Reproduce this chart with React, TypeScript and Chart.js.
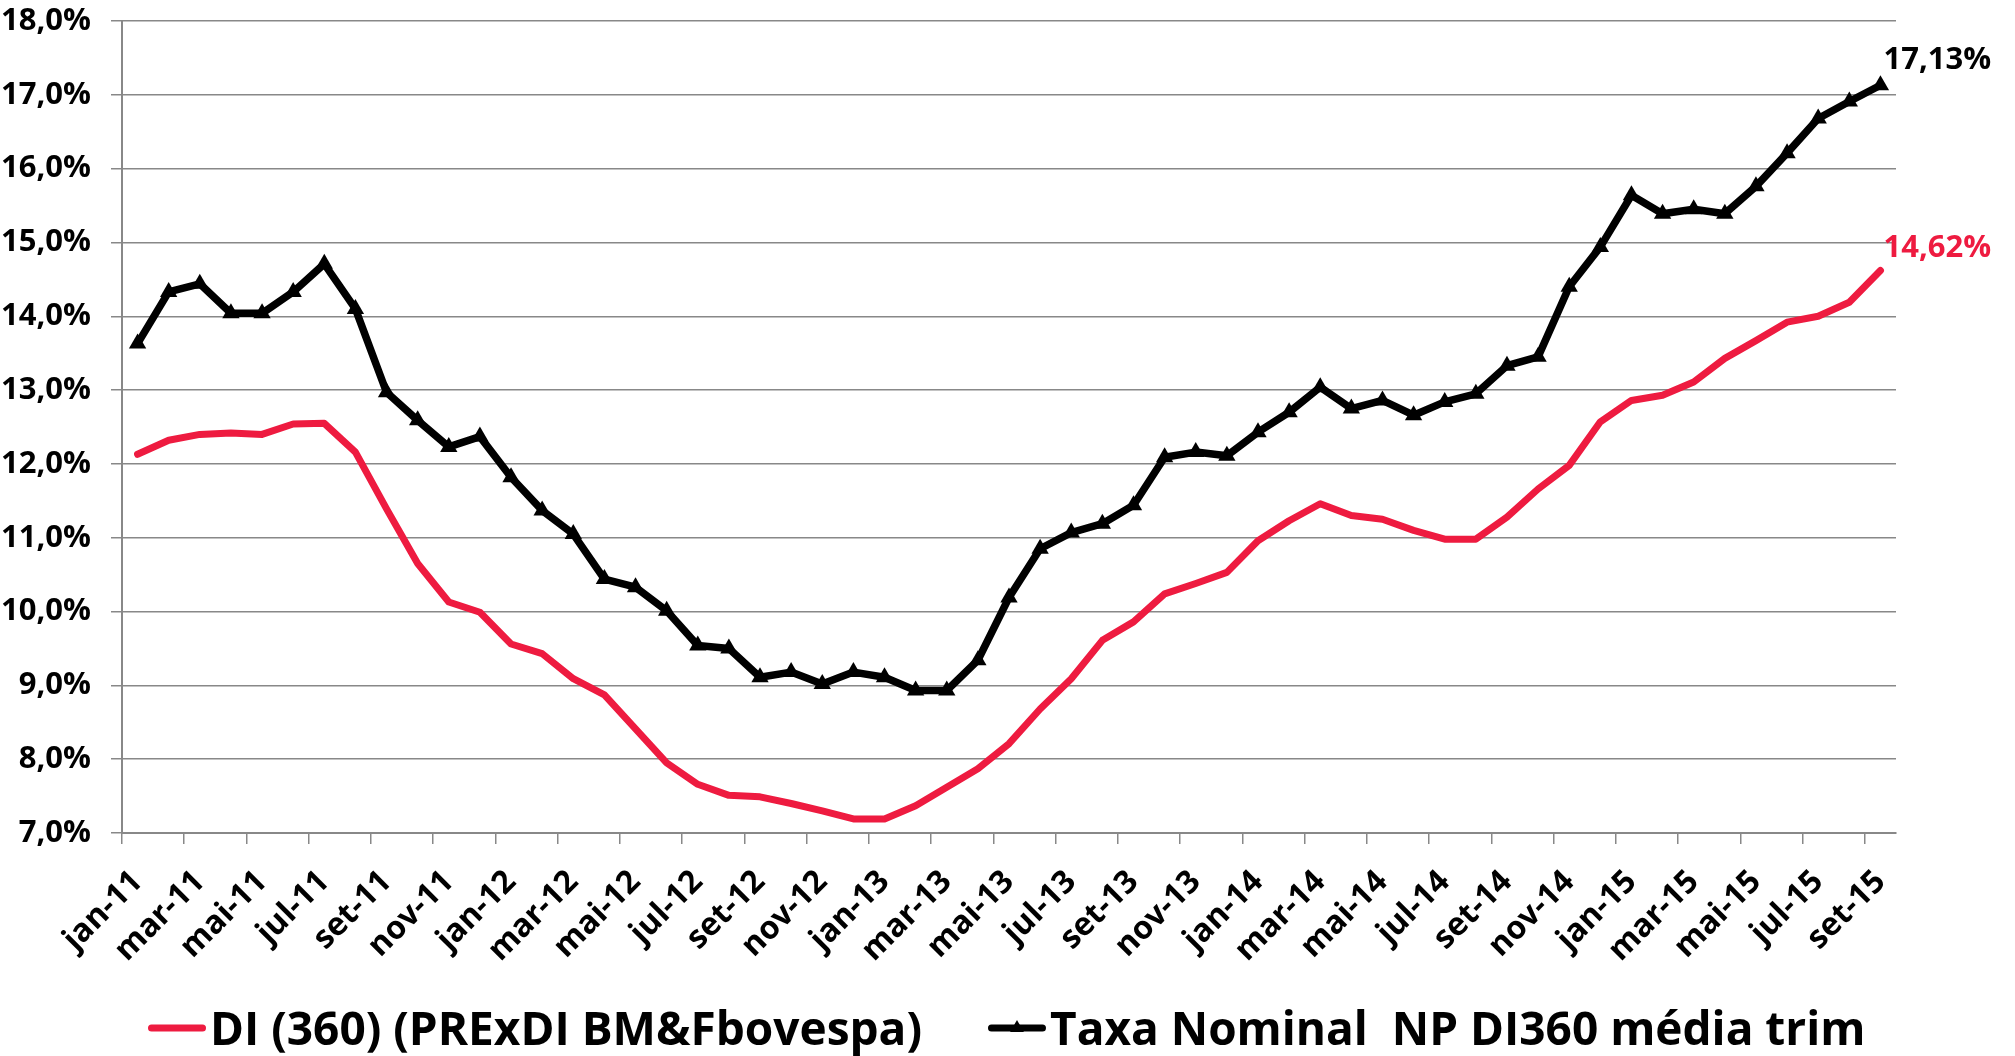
import React, { useEffect, useRef } from 'react';
import { Chart, registerables } from 'chart.js';

Chart.register(...registerables);

const FONT = "'Open Sans', 'Liberation Sans', sans-serif";
const RED = '#EE1B40';
const BLACK = '#000000';
const GRID = '#888888';

const categories = [
  'jan-11', 'fev-11', 'mar-11', 'abr-11', 'mai-11', 'jun-11', 'jul-11', 'ago-11', 'set-11', 'out-11', 'nov-11', 'dez-11',
  'jan-12', 'fev-12', 'mar-12', 'abr-12', 'mai-12', 'jun-12', 'jul-12', 'ago-12', 'set-12', 'out-12', 'nov-12', 'dez-12',
  'jan-13', 'fev-13', 'mar-13', 'abr-13', 'mai-13', 'jun-13', 'jul-13', 'ago-13', 'set-13', 'out-13', 'nov-13', 'dez-13',
  'jan-14', 'fev-14', 'mar-14', 'abr-14', 'mai-14', 'jun-14', 'jul-14', 'ago-14', 'set-14', 'out-14', 'nov-14', 'dez-14',
  'jan-15', 'fev-15', 'mar-15', 'abr-15', 'mai-15', 'jun-15', 'jul-15', 'ago-15', 'set-15',
];

const diValues = [
  12.13, 12.32, 12.40, 12.42, 12.40, 12.54, 12.55, 12.16, 11.39, 10.65,
  10.13, 9.99, 9.56, 9.43, 9.09, 8.87, 8.41, 7.95, 7.66, 7.51,
  7.49, 7.40, 7.30, 7.19, 7.19, 7.37, 7.62, 7.87, 8.21, 8.68,
  9.09, 9.61, 9.86, 10.24, 10.38, 10.53, 10.96, 11.23, 11.46, 11.30,
  11.25, 11.10, 10.98, 10.98, 11.28, 11.66, 11.98, 12.57, 12.86, 12.93,
  13.11, 13.43, 13.67, 13.92, 14.00, 14.19, 14.62,
];

const taxaValues = [
  13.63, 14.33, 14.44, 14.04, 14.04, 14.33, 14.71, 14.10, 12.97, 12.59,
  12.23, 12.37, 11.82, 11.37, 11.05, 10.44, 10.33, 10.01, 9.54, 9.50,
  9.11, 9.18, 9.02, 9.18, 9.11, 8.93, 8.93, 9.34, 10.19, 10.85,
  11.07, 11.19, 11.44, 12.09, 12.16, 12.11, 12.43, 12.70, 13.04, 12.75,
  12.86, 12.66, 12.84, 12.95, 13.33, 13.45, 14.40, 14.94, 15.64, 15.39,
  15.45, 15.39, 15.76, 16.21, 16.68, 16.91, 17.13,
];

const seriesNames = ['DI (360) (PRExDI BM&Fbovespa)', 'Taxa Nominal  NP DI360 média trim'];

const Y_MIN = 7;
const Y_MAX = 18;
const Y_STEP = 1;

function fmtPct(v: number, digits: number): string {
  return v.toFixed(digits).replace('.', ',') + '%';
}

function drawTriangle(ctx: CanvasRenderingContext2D, x: number, y: number, r: number) {
  ctx.beginPath();
  let rad = 0;
  ctx.moveTo(x + Math.sin(rad) * r, y - Math.cos(rad) * r);
  rad += (2 * Math.PI) / 3;
  ctx.lineTo(x + Math.sin(rad) * r, y - Math.cos(rad) * r);
  rad += (2 * Math.PI) / 3;
  ctx.lineTo(x + Math.sin(rad) * r, y - Math.cos(rad) * r);
  ctx.closePath();
  ctx.fill();
}

const endLabelPlugin = {
  id: 'endLabels',
  afterDatasetsDraw(chart: any) {
    const ctx: CanvasRenderingContext2D = chart.ctx;
    const rises = [13.5, 16.5];
    chart.data.datasets.forEach((ds: any, di: number) => {
      const meta = chart.getDatasetMeta(di);
      const pt = meta.data[meta.data.length - 1];
      const val = ds.data[ds.data.length - 1];
      ctx.save();
      ctx.font = `bold 31px ${FONT}`;
      ctx.fillStyle = ds.borderColor;
      ctx.textAlign = 'left';
      ctx.textBaseline = 'alphabetic';
      ctx.fillText(fmtPct(val, 2), pt.x + 3, pt.y - rises[di]);
      ctx.restore();
    });
  },
};

const legendPlugin = {
  id: 'bottomLegend',
  afterDraw(chart: any) {
    const ctx: CanvasRenderingContext2D = chart.ctx;
    const lineY = 1028;
    const baseY = 1045;
    let x = 148;
    ctx.save();
    ctx.font = `bold 46px ${FONT}`;
    chart.data.datasets.forEach((ds: any) => {
      ctx.strokeStyle = ds.borderColor;
      ctx.lineWidth = 7;
      ctx.lineCap = 'round';
      ctx.beginPath();
      ctx.moveTo(x + 3.5, lineY);
      ctx.lineTo(x + 54.5, lineY);
      ctx.stroke();
      if (ds.pointRadius > 0) {
        ctx.fillStyle = ds.pointBackgroundColor;
        drawTriangle(ctx, x + 29, lineY, 8);
      }
      ctx.fillStyle = '#000';
      ctx.textAlign = 'left';
      ctx.textBaseline = 'alphabetic';
      ctx.fillText(ds.label, x + 62, baseY);
      x += 62 + ctx.measureText(ds.label).width + 66;
    });
    ctx.restore();
  },
};

export default function App() {
  const canvasRef = useRef<HTMLCanvasElement | null>(null);

  useEffect(() => {
    if (!canvasRef.current) return;
    const chart = new Chart(canvasRef.current, {
      type: 'line',
      data: {
        labels: categories,
        datasets: [
          {
            label: seriesNames[0],
            data: diValues,
            borderColor: RED,
            backgroundColor: RED,
            borderWidth: 7,
            pointRadius: 0,
            tension: 0,
            borderJoinStyle: 'round',
            borderCapStyle: 'round',
          },
          {
            label: seriesNames[1],
            data: taxaValues,
            borderColor: BLACK,
            backgroundColor: BLACK,
            borderWidth: 7.5,
            pointStyle: 'triangle',
            pointRadius: 10,
            pointBackgroundColor: BLACK,
            pointBorderColor: BLACK,
            pointBorderWidth: 0,
            tension: 0,
            borderJoinStyle: 'round',
            borderCapStyle: 'round',
          },
        ],
      } as any,
      options: {
        animation: false,
        responsive: false,
        maintainAspectRatio: false,
        layout: { padding: { top: 21, right: 119, bottom: 0, left: 0 } },
        plugins: {
          legend: { display: false },
          tooltip: { enabled: false },
        },
        scales: {
          x: {
            type: 'category',
            offset: true,
            grid: {
              display: true,
              drawOnChartArea: false,
              drawTicks: true,
              tickLength: 11,
              offset: true,
              lineWidth: 1.5,
              color: GRID,
              tickColor: (c: any) => (typeof c.index === 'number' && c.index % 2 === 0 ? GRID : 'rgba(0,0,0,0)'),
            },
            border: { display: true, color: GRID, width: 2 },
            ticks: {
              autoSkip: false,
              maxRotation: 45,
              minRotation: 45,
              padding: 19,
              color: '#000',
              font: { family: FONT, size: 32, weight: 'bold' },
              callback: function (this: any, val: any, idx: number) {
                return idx % 2 === 0 ? this.getLabelForValue(val) : '';
              },
            },
            afterFit: (scale: any) => {
              scale.height = 223;
              scale.paddingLeft = 0;
              scale.paddingRight = 0;
            },
          },
          y: {
            min: Y_MIN,
            max: Y_MAX,
            grid: { color: GRID, lineWidth: 1.5, tickLength: 11, drawTicks: true },
            border: { display: true, color: GRID, width: 2 },
            ticks: {
              stepSize: Y_STEP,
              padding: 20,
              color: '#000',
              font: { family: FONT, size: 31, weight: 'bold' },
              callback: (v: any) => fmtPct(Number(v), 1),
            },
            afterFit: (scale: any) => {
              scale.width = 122;
              scale.paddingTop = 0;
              scale.paddingBottom = 0;
            },
          },
        },
      } as any,
      plugins: [endLabelPlugin, legendPlugin],
    });
    return () => chart.destroy();
  }, []);

  return (
    <div style={{ position: 'fixed', left: 0, top: 0, width: 2015, height: 1056, background: '#fff' }}>
      <canvas ref={canvasRef} width={2015} height={1056} style={{ display: 'block', width: 2015, height: 1056 }} />
    </div>
  );
}
